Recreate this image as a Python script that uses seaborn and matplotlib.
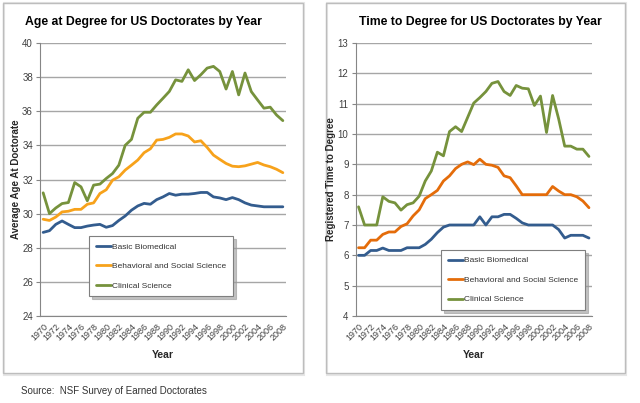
import numpy as np
import pandas as pd
import matplotlib
matplotlib.use("Agg")
import matplotlib.pyplot as plt
import seaborn as sns
from matplotlib import font_manager as fm
from matplotlib.patches import Rectangle

# ---------------- data ----------------
years = list(range(1970, 2009))
fields = ["Basic Biomedical", "Behavioral and Social Science", "Clinical Science"]

age_basic = [28.9, 29.0, 29.37, 29.57, 29.37, 29.18, 29.18, 29.27, 29.33, 29.37,
             29.2, 29.3, 29.6, 29.86, 30.2, 30.45, 30.6, 30.55, 30.82, 30.98,
             31.18, 31.08, 31.14, 31.14, 31.18, 31.24, 31.24, 30.98, 30.92, 30.82,
             30.94, 30.82, 30.63, 30.5, 30.45, 30.4, 30.4, 30.4, 30.4]
age_behav = [29.67, 29.6, 29.8, 30.1, 30.14, 30.25, 30.25, 30.55, 30.63, 31.18,
             31.4, 31.96, 32.16, 32.55, 32.84, 33.14, 33.57, 33.8, 34.31, 34.35,
             34.47, 34.67, 34.67, 34.55, 34.2, 34.27, 33.88, 33.43, 33.18, 32.94,
             32.78, 32.75, 32.8, 32.9, 33.0, 32.85, 32.75, 32.6, 32.4]
age_clin = [31.22, 30.0, 30.33, 30.59, 30.65, 31.82, 31.57, 30.75, 31.67, 31.73,
            32.06, 32.35, 32.84, 34.0, 34.35, 35.59, 35.94, 35.94, 36.37, 36.76,
            37.16, 37.84, 37.75, 38.43, 37.8, 38.14, 38.53, 38.63, 38.33, 37.3,
            38.33, 36.96, 38.24, 37.15, 36.66, 36.18, 36.24, 35.78, 35.45]

time_basic = [6.0, 6.0, 6.16, 6.16, 6.24, 6.16, 6.16, 6.16, 6.25, 6.25,
              6.25, 6.36, 6.53, 6.75, 6.93, 7.0, 7.0, 7.0, 7.0, 7.0,
              7.27, 7.0, 7.27, 7.27, 7.35, 7.35, 7.22, 7.07, 7.0, 7.0,
              7.0, 7.0, 7.0, 6.85, 6.57, 6.66, 6.66, 6.66, 6.57]
time_behav = [6.25, 6.25, 6.5, 6.5, 6.69, 6.77, 6.77, 6.95, 7.04, 7.3,
              7.5, 7.87, 8.0, 8.14, 8.45, 8.62, 8.86, 9.0, 9.08, 8.99,
              9.17, 9.0, 8.97, 8.9, 8.62, 8.56, 8.29, 8.0, 8.0, 8.0,
              8.0, 8.0, 8.27, 8.12, 8.0, 8.0, 7.93, 7.79, 7.57]
time_clin = [7.6, 7.0, 7.0, 7.0, 7.93, 7.78, 7.73, 7.49, 7.67, 7.73,
             7.95, 8.45, 8.78, 9.4, 9.28, 10.08, 10.24, 10.08, 10.55, 11.02,
             11.2, 11.4, 11.67, 11.73, 11.4, 11.27, 11.6, 11.51, 11.49, 10.94,
             11.25, 10.05, 11.27, 10.5, 9.6, 9.6, 9.5, 9.5, 9.26]

age_ticks = [24, 26, 28, 30, 32, 34, 36, 38, 40]
time_ticks = [4, 5, 6, 7, 8, 9, 10, 11, 12, 13]
year_labels = list(range(1970, 2009, 2))

titles = ["Age at Degree for US Doctorates by Year", "Time to Degree for US Doctorates by Year"]
ylabels = ["Average Age At Doctorate", "Registered Time to Degree"]
source_text = "Source:  NSF Survey of Earned Doctorates"

# ---------------- styling ----------------
sns.set_style("white")
available = {f.name for f in fm.fontManager.ttflist}
narrow = "Liberation Sans Narrow" if "Liberation Sans Narrow" in available else "Liberation Sans"
plt.rcParams["font.family"] = [narrow, "DejaVu Sans"]

def long_df(b, h, c):
    return pd.DataFrame({
        "Year": years * 3,
        "Value": b + h + c,
        "Field": [fields[0]] * len(years) + [fields[1]] * len(years) + [fields[2]] * len(years),
    })

df_age = long_df(age_basic, age_behav, age_clin)
df_time = long_df(time_basic, time_behav, time_clin)

pal_age = {fields[0]: "#335C8E", fields[1]: "#F7A21B", fields[2]: "#76923C"}
pal_time = {fields[0]: "#335C8E", fields[1]: "#E46C0A", fields[2]: "#76923C"}

W, H = 640, 403
fig = plt.figure(figsize=(6.4, 4.03), dpi=100)

def px_rect(x0, y0, x1, y1):
    return [x0 / W, 1 - y1 / H, (x1 - x0) / W, (y1 - y0) / H]

# panel frames (drawn behind the axes)
for (x0, x1) in [(3, 303), (326, 625)]:
    fig.patches.append(Rectangle((x0 / W + 0.002, 1 - 375 / H), (x1 - x0) / W, 372 / H,
                                 transform=fig.transFigure, facecolor="none",
                                 edgecolor="#e6e6e6", lw=1.5, zorder=-2))
    fig.patches.append(Rectangle((x0 / W, 1 - 373 / H), (x1 - x0) / W, 370 / H,
                                 transform=fig.transFigure, facecolor="none",
                                 edgecolor="#bdbdbd", lw=1.0, zorder=-1))

ax1 = fig.add_axes(px_rect(40, 43, 286, 316))
ax2 = fig.add_axes(px_rect(355.5, 43, 592, 316))

specs = [
    (ax1, df_age, pal_age, (24, 40), age_ticks, (0.199, 0.293), titles[0], ylabels[0], 143),
    (ax2, df_time, pal_time, (4, 13), time_ticks, (0.3615, 0.242), titles[1], ylabels[1], 480),
]

for ax, d, pal, ylim, yt, legpos, ttl, yl, title_x in specs:
    ax.set_zorder(3)
    ax.patch.set_alpha(0.0)
    sns.lineplot(data=d, x="Year", y="Value", hue="Field", palette=pal, ax=ax,
                 linewidth=2.0, legend=True)
    ax.set_xlim(1969.5, 2008.5)
    ax.set_ylim(*ylim)
    ax.set_yticks(yt)
    ax.set_yticklabels([str(v) for v in yt], fontsize=7, color="#404040")
    ax.set_xticks(year_labels)
    ax.set_xticklabels([str(v) for v in year_labels], rotation=45, ha="right",
                       rotation_mode="anchor", fontsize=6.5, color="#404040")
    ax.set_xticks([y - 0.5 for y in years] + [2008.5], minor=True)
    ax.tick_params(axis="x", which="major", length=0, pad=4)
    ax.tick_params(axis="x", which="minor", length=3, color="#868686", width=0.8)
    ax.tick_params(axis="y", which="major", length=3, color="#868686", width=0.8, pad=2, left=True)
    ax.grid(axis="y", color="#a6a6a6", lw=1.0)
    ax.set_axisbelow(True)
    for s in ["top", "right"]:
        ax.spines[s].set_visible(False)
    for s in ["left", "bottom"]:
        ax.spines[s].set_color("#868686")
        ax.spines[s].set_linewidth(0.8)
    ax.set_xlabel("Year", fontsize=7.5, fontweight="bold", family=["Liberation Sans", "DejaVu Sans"], labelpad=6)
    ax.set_ylabel(yl, fontsize=7, fontweight="bold", family=["Liberation Sans", "DejaVu Sans"], labelpad=1)
    leg = ax.legend(loc="upper left", bbox_to_anchor=legpos, fontsize=6, frameon=True,
                    fancybox=False, shadow={"color": "#9a9a9a", "alpha": 0.6},
                    handlelength=1.9, handletextpad=0.1,
                    labelspacing=1.4, borderpad=0.8, borderaxespad=0)
    leg.get_frame().set_edgecolor("#7f7f7f")
    leg.get_frame().set_linewidth(0.8)
    leg.get_frame().set_facecolor("white")
    for t in leg.get_texts():
        t.set_color("#333333")
    fig.text(title_x / W, 1 - 22 / H, ttl, ha="center", va="center",
             fontsize=8.8, fontweight="bold", color="black")

fig.text(21 / W, 1 - 391 / H, source_text, ha="left", va="center", fontsize=7, color="#333333")

fig.savefig("out.png", dpi=100, facecolor="white")
